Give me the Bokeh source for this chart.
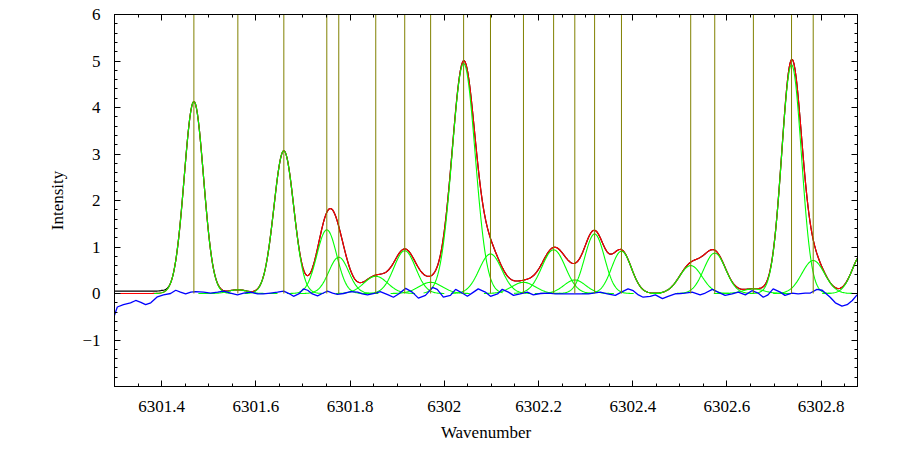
import numpy as np
from bokeh.plotting import figure
from bokeh.models import Range1d, LinearAxis, FixedTicker, CustomLabelingPolicy
from bokeh.embed import file_html
from bokeh.resources import INLINE

# ---- data ----
x_tick_labels = ["6301.4", "6301.6", "6301.8", "6302", "6302.2", "6302.4", "6302.6", "6302.8"]
y_ticks = [-2, -1, 0, 1, 2, 3, 4, 5, 6]
y_tick_labels = ["", "\u22121", "0", "1", "2", "3", "4", "5", "6"]

# fitted line components (centre, peak height, gaussian sigma)
comp_center = [6301.4685, 6301.5618, 6301.6594, 6301.7506, 6301.7760, 6301.8545, 6301.9160,
               6301.9710, 6302.0410, 6302.0980, 6302.1680, 6302.2320, 6302.2770, 6302.3190,
               6302.3760, 6302.5230, 6302.5740, 6302.6560, 6302.7370, 6302.7830, 6302.8870]
comp_height = [4.13, 0.08, 3.07, 1.37, 0.78, 0.37, 0.92, 0.24, 4.95, 0.85, 0.24, 0.94, 0.29,
               1.28, 0.91, 0.60, 0.87, 0.10, 4.92, 0.71, 0.85]
comp_sigma = [0.0205, 0.020, 0.021, 0.021, 0.021, 0.025, 0.023, 0.025, 0.0245, 0.024, 0.025,
              0.025, 0.023, 0.021, 0.021, 0.024, 0.023, 0.022, 0.021, 0.024, 0.021]

# residual (blue)
resid_x = [6301.300, 6301.306, 6301.319, 6301.334, 6301.345, 6301.356, 6301.366, 6301.377,
           6301.391, 6301.404, 6301.419, 6301.430, 6301.440, 6301.451, 6301.462, 6301.472,
           6301.489, 6301.504, 6301.519, 6301.532, 6301.546, 6301.561, 6301.574, 6301.589,
           6301.604, 6301.616, 6301.631, 6301.646, 6301.659, 6301.674, 6301.680, 6301.691,
           6301.701, 6301.710, 6301.720, 6301.731, 6301.741, 6301.752, 6301.763, 6301.773,
           6301.786, 6301.801, 6301.816, 6301.826, 6301.837, 6301.854, 6301.864, 6301.881,
           6301.892, 6301.903, 6301.918, 6301.932, 6301.945, 6301.960, 6301.975, 6301.985,
           6301.998, 6302.013, 6302.024, 6302.038, 6302.049, 6302.062, 6302.072, 6302.087,
           6302.098, 6302.113, 6302.123, 6302.136, 6302.147, 6302.161, 6302.176, 6302.189,
           6302.204, 6302.221, 6302.236, 6302.272, 6302.306, 6302.331, 6302.346, 6302.363,
           6302.378, 6302.390, 6302.401, 6302.412, 6302.422, 6302.437, 6302.448, 6302.463,
           6302.475, 6302.490, 6302.501, 6302.511, 6302.526, 6302.543, 6302.554, 6302.569,
           6302.581, 6302.596, 6302.611, 6302.624, 6302.639, 6302.653, 6302.666, 6302.677,
           6302.687, 6302.698, 6302.713, 6302.723, 6302.738, 6302.751, 6302.766, 6302.777,
           6302.791, 6302.802, 6302.819, 6302.830, 6302.844, 6302.855, 6302.866, 6302.876]
resid_y = [-0.47, -0.29, -0.24, -0.20, -0.15, -0.19, -0.24, -0.20,
           -0.07, -0.03, 0.00, 0.07, 0.03, -0.01, 0.03, 0.04,
           0.03, 0.01, 0.03, 0.05, 0.01, -0.03, 0.01, 0.03,
           -0.01, -0.01, 0.01, 0.03, 0.05, -0.02, -0.06, -0.01,
           0.10, 0.07, -0.01, -0.05, 0.00, 0.05, 0.01, -0.02,
           0.00, 0.04, 0.03, -0.01, -0.03, 0.01, 0.04, -0.03,
           -0.08, -0.01, 0.11, 0.03, -0.10, -0.04, 0.13, 0.09,
           -0.08, -0.04, 0.09, 0.01, -0.06, 0.03, 0.10, 0.03,
           -0.06, -0.01, 0.09, 0.03, -0.04, -0.01, 0.03, -0.03,
           0.00, 0.01, -0.01, -0.01, -0.01, 0.03, -0.01, -0.04,
           0.04, 0.10, 0.06, -0.03, -0.08, -0.06, -0.03, -0.11,
           -0.06, -0.01, 0.00, 0.01, 0.03, -0.03, 0.01, 0.09,
           0.03, -0.04, -0.01, 0.03, -0.03, 0.06, 0.01, -0.08,
           -0.03, 0.10, 0.03, -0.04, 0.01, -0.01, 0.01, 0.01,
           0.09, 0.07, -0.08, -0.20, -0.27, -0.24, -0.15, -0.03]

# offset of the measured (black) spectrum from the fit
data_dev_x = [6301.30, 6301.40, 6301.42, 6302.88]
data_dev_y = [0.05, 0.05, 0.0, 0.0]

X0, X1 = 6301.30, 6302.877
Y0, Y1 = -2, 6

# ---- build curves ----
xs = np.arange(X0, 6302.90, 0.002)
comps = []
fit = np.zeros_like(xs)
for c, a, s in zip(comp_center, comp_height, comp_sigma):
    g = a * np.exp(-0.5 * ((xs - c) / s) ** 2)
    fit += g
    m = np.abs(xs - c) <= 0.085
    comps.append((xs[m], g[m]))
data = fit + np.interp(xs, data_dev_x, data_dev_y)

FONT = "Liberation Serif"
p = figure(width=900, height=450, output_backend="svg", toolbar_location=None,
           x_range=Range1d(X0, X1), y_range=Range1d(Y0, Y1),
           min_border_left=114, min_border_right=43, min_border_top=14, min_border_bottom=64,
           x_axis_location=None, y_axis_location=None)
p.outline_line_color = "black"
p.outline_line_width = 1
p.xgrid.visible = False
p.ygrid.visible = False
p.background_fill_color = "white"
p.border_fill_color = "white"

x_ticks = [float(s) for s in x_tick_labels]
x_minor = [float(v) for v in np.round(np.arange(6301.30, 6302.90, 0.05), 3)]
y_minor = [float(v) for v in np.round(np.arange(-2, 6.01, 0.2), 2)]

no_labels = CustomLabelingPolicy(code="""
    for (let i = 0; i < indices.size; i++) { indices.unset(i) }
    return indices
""")


def style(ax, labels=True):
    ax.major_tick_in = 6
    ax.major_tick_out = 0
    ax.minor_tick_in = 3
    ax.minor_tick_out = 0
    ax.axis_line_color = "black"
    ax.major_tick_line_color = "black"
    ax.minor_tick_line_color = "black"
    ax.major_label_text_font = FONT
    ax.major_label_text_color = "black"
    ax.axis_label_text_font = FONT
    ax.axis_label_text_font_size = "17px"
    ax.axis_label_text_font_style = "normal"
    ax.axis_label_text_color = "black"
    if labels:
        ax.major_label_text_font_size = "17px"
    else:
        ax.major_label_text_font_size = "2px"
        ax.major_label_policy = no_labels
        ax.major_label_standoff = 0


xb = LinearAxis(ticker=FixedTicker(ticks=x_ticks, minor_ticks=x_minor), axis_label="Wavenumber")
style(xb)
xb.major_label_overrides = {t: s for t, s in zip(x_ticks, x_tick_labels)}
xb.major_label_standoff = 14
xb.axis_label_standoff = 8
p.add_layout(xb, "below")

xt = LinearAxis(ticker=FixedTicker(ticks=x_ticks, minor_ticks=x_minor))
style(xt, labels=False)
p.add_layout(xt, "above")

yl = LinearAxis(ticker=FixedTicker(ticks=y_ticks, minor_ticks=y_minor), axis_label="Intensity")
style(yl)
yl.major_label_overrides = {t: s for t, s in zip(y_ticks, y_tick_labels)}
yl.major_label_standoff = 14
yl.axis_label_standoff = 12
p.add_layout(yl, "left")

yr = LinearAxis(ticker=FixedTicker(ticks=y_ticks, minor_ticks=y_minor))
style(yr, labels=False)
p.add_layout(yr, "right")

# measured spectrum, fit, components, residual, line markers
p.line(xs, data, line_color="black", line_width=1.2)
p.line(xs, fit, line_color="#ff0000", line_width=1.2)
for cx, cy in comps:
    p.line(cx, cy, line_color="#00ff00", line_width=1.1)
p.line(resid_x, resid_y, line_color="#0000ff", line_width=1.3)
p.segment(x0=comp_center, y0=[0] * len(comp_center), x1=comp_center, y1=[Y1] * len(comp_center),
          line_color="#808000", line_width=1)

open("out.html", "w").write(file_html(p, INLINE))
